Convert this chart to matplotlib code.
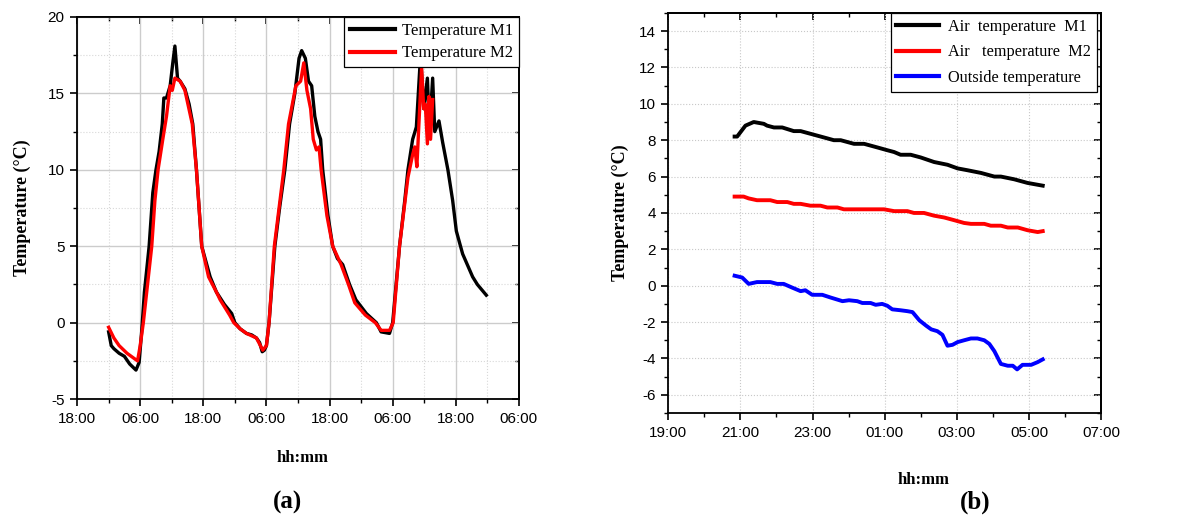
import matplotlib
matplotlib.use("Agg")
import matplotlib.pyplot as plt
from matplotlib.ticker import MultipleLocator, FixedLocator, FixedFormatter

# ---------------- Panel (a) data: hours since 18:00 of day 0 ----------------
a_m1_t = [6.0, 6.5, 7.0, 8.0, 9.0, 10.0, 11.2, 11.8, 12.3, 12.8, 13.7, 14.4, 15.0, 15.6, 16.2, 16.5,
          17.0, 17.7, 18.2, 18.6, 19.1, 19.6, 20.5, 21.3, 22.0, 22.7, 23.7, 24.5, 25.3, 26.5, 28.0,
          29.4, 30.0, 31.0, 32.2, 33.2, 34.1, 34.7, 35.2, 35.6, 36.0, 36.5, 37.6, 38.5, 39.5, 40.4,
          41.4, 42.2, 42.7, 43.4, 44.0, 44.6, 45.2, 45.8, 46.3, 46.7, 47.7, 48.6, 49.5, 50.5, 51.8,
          53.0, 55.0, 56.9, 57.8, 59.4, 60.0, 61.3, 62.3, 62.9, 63.8, 64.5, 65.3, 65.9, 66.6, 67.0,
          67.6, 68.0, 68.8, 69.5, 70.5, 71.4, 72.1, 73.3, 75.2, 76.1, 77.8]
a_m1_v = [-0.6, -1.5, -1.7, -2.0, -2.2, -2.7, -3.1, -2.6, -0.5, 2.0, 5.0, 8.5, 10.0, 11.2, 13.0, 14.7,
          14.7, 15.5, 17.0, 18.1, 16.0, 15.8, 15.3, 14.3, 13.0, 10.0, 5.0, 4.0, 3.0, 2.0, 1.2,
          0.6, 0.0, -0.4, -0.7, -0.8, -1.0, -1.3, -1.9, -1.8, -1.5, 0.0, 5.0, 7.5, 10.0, 13.0,
          15.0, 17.3, 17.8, 17.3, 15.8, 15.5, 13.5, 12.5, 12.0, 10.0, 7.0, 5.0, 4.2, 3.8, 2.5,
          1.5, 0.6, 0.0, -0.6, -0.7, 0.0, 5.0, 8.0, 10.0, 12.0, 12.8, 17.5, 14.0, 16.0, 12.5,
          16.0, 12.5, 13.2, 11.8, 10.0, 8.0, 6.0, 4.5, 3.0, 2.5, 1.8]

a_m2_t = [6.0, 7.0, 8.0, 9.5, 11.5, 12.0, 12.6, 13.4, 14.2, 14.8, 15.4, 16.3, 17.0, 17.7, 18.1, 18.6,
          19.6, 20.5, 21.9, 22.7, 23.7, 25.0, 26.5, 27.2, 29.0, 29.8, 31.0, 32.2, 34.1, 35.0, 35.3,
          36.0, 36.5, 37.5, 39.3, 40.2, 41.6, 42.5, 43.1, 43.7, 44.4, 44.9, 45.5, 46.0, 46.4, 47.5,
          48.6, 50.2, 51.6, 52.8, 54.8, 56.7, 57.8, 59.4, 60.1, 61.3, 62.9, 63.8, 64.2, 64.6, 65.5,
          65.9, 66.2, 66.6, 66.9, 67.2, 67.6]
a_m2_v = [-0.3, -1.0, -1.5, -2.0, -2.5, -1.5, 0.0, 2.5, 5.0, 8.0, 10.0, 12.0, 13.5, 15.5, 15.2, 16.0,
          15.8, 15.2, 13.0, 10.0, 5.0, 3.0, 2.0, 1.5, 0.5, 0.0, -0.4, -0.7, -1.0, -1.6, -1.8,
          -1.5, 0.0, 5.0, 10.0, 13.0, 15.5, 15.8, 17.0, 15.2, 14.0, 12.0, 11.3, 11.5, 10.0, 7.0,
          5.0, 3.8, 2.5, 1.3, 0.5, 0.0, -0.5, -0.5, 0.0, 5.0, 9.5, 11.0, 11.5, 10.2, 16.7,
          14.0, 14.3, 11.7, 14.8, 12.0, 14.6]

a_xticks = [0, 12, 24, 36, 48, 60, 72, 84]
a_xlabels = ["18:00", "06:00", "18:00", "06:00", "18:00", "06:00", "18:00", "06:00"]

# ---------------- Panel (b) data: hours since 19:00 ----------------
b_t_m1 = [1.84, 1.91, 2.14, 2.37, 2.65, 2.74, 2.93, 3.16, 3.48, 3.67, 4.04, 4.41, 4.59, 4.78, 5.15,
          5.43, 5.80, 6.07, 6.26, 6.44, 6.72, 7.00, 7.37, 7.74, 8.02, 8.29, 8.67, 9.04, 9.22, 9.59,
          9.96, 10.24, 10.38]
b_m1 = [8.2, 8.2, 8.8, 9.0, 8.9, 8.8, 8.7, 8.7, 8.5, 8.5, 8.3, 8.1, 8.0, 8.0, 7.8,
        7.8, 7.6, 7.45, 7.35, 7.2, 7.2, 7.05, 6.8, 6.65, 6.45, 6.35, 6.2, 6.0, 6.0, 5.85,
        5.65, 5.55, 5.5]

b_t_m2 = [1.84, 2.09, 2.23, 2.46, 2.83, 3.02, 3.30, 3.48, 3.67, 3.94, 4.22, 4.41, 4.69, 4.87, 5.15,
          5.33, 5.52, 5.98, 6.26, 6.63, 6.81, 7.09, 7.37, 7.65, 7.93, 8.20, 8.39, 8.76, 8.94, 9.22,
          9.41, 9.69, 9.96, 10.24, 10.38]
b_m2 = [4.9, 4.9, 4.8, 4.7, 4.7, 4.6, 4.6, 4.5, 4.5, 4.4, 4.4, 4.3, 4.3, 4.2, 4.2,
        4.2, 4.2, 4.2, 4.1, 4.1, 4.0, 4.0, 3.85, 3.75, 3.6, 3.45, 3.4, 3.4, 3.3, 3.3,
        3.2, 3.2, 3.05, 2.95, 3.0]

b_t_out = [1.84, 2.05, 2.23, 2.46, 2.83, 3.02, 3.20, 3.43, 3.67, 3.80, 3.99, 4.27, 4.50, 4.83, 5.01,
           5.24, 5.38, 5.61, 5.75, 5.93, 6.07, 6.21, 6.44, 6.63, 6.77, 6.96, 7.15, 7.29, 7.46, 7.60,
           7.74, 7.88, 8.02, 8.20, 8.39, 8.57, 8.76, 8.90, 9.04, 9.22, 9.41, 9.55, 9.67, 9.82, 10.06,
           10.24, 10.38]
b_out = [0.55, 0.45, 0.1, 0.2, 0.2, 0.1, 0.1, -0.1, -0.3, -0.25, -0.5, -0.5, -0.65, -0.85, -0.8,
         -0.85, -0.95, -0.95, -1.05, -1.0, -1.1, -1.3, -1.35, -1.4, -1.45, -1.9, -2.2, -2.4, -2.5, -2.7,
         -3.3, -3.25, -3.1, -3.0, -2.9, -2.9, -3.0, -3.2, -3.6, -4.3, -4.4, -4.4, -4.6, -4.35, -4.35,
         -4.2, -4.05]

b_xticks = [0, 2, 4, 6, 8, 10, 12]
b_xlabels = ["19:00", "21:00", "23:00", "01:00", "03:00", "05:00", "07:00"]

# ---------------- Figure ----------------
SERIF = "Liberation Serif"
SANS = "Liberation Sans"
plt.rcParams["font.family"] = SANS
plt.rcParams["axes.unicode_minus"] = False
fig = plt.figure(figsize=(12.04, 5.15), dpi=100)

def style_axes(ax):
    for s in ax.spines.values():
        s.set_linewidth(1.3)
        s.set_color("black")
    ax.tick_params(which="major", direction="out", length=5, width=1.2, labelsize=11, pad=4)
    ax.tick_params(which="minor", direction="out", length=3, width=1.0)
    # top and right ticks pointing inward without labels
    top = ax.secondary_xaxis("top")
    top.set_xticks(ax.get_xticks(minor=False))
    top.xaxis.set_minor_locator(ax.xaxis.get_minor_locator())
    top.tick_params(which="major", direction="in", length=5, width=1.2, labelbottom=False, labeltop=False)
    top.tick_params(which="minor", direction="in", length=3, width=1.0)
    right = ax.secondary_yaxis("right")
    right.set_yticks(ax.get_yticks(minor=False))
    right.yaxis.set_minor_locator(ax.yaxis.get_minor_locator())
    right.tick_params(which="major", direction="in", length=5, width=1.2, labelleft=False, labelright=False)
    right.tick_params(which="minor", direction="in", length=3, width=1.0)
    for sa in (top, right):
        for s in sa.spines.values():
            s.set_linewidth(1.3)

# Panel (a)
ax1 = fig.add_axes([0.064, 0.225, 0.367, 0.742])
ax1.plot(a_m1_t, a_m1_v, color="black", lw=2.4, label="Temperature M1", zorder=3)
ax1.plot(a_m2_t, a_m2_v, color="#ff0000", lw=2.4, label="Temperature M2", zorder=4)
ax1.set_xlim(0, 84)
ax1.set_ylim(-5, 20)
ax1.xaxis.set_major_locator(FixedLocator(a_xticks))
ax1.xaxis.set_major_formatter(FixedFormatter(a_xlabels))
ax1.xaxis.set_minor_locator(MultipleLocator(6))
ax1.yaxis.set_major_locator(MultipleLocator(5))
ax1.yaxis.set_minor_locator(MultipleLocator(2.5))
ax1.grid(which="major", color="#cccccc", lw=1.0, ls="-")
ax1.grid(which="minor", color="#d8d8d8", lw=0.8, ls=":")
ax1.set_axisbelow(True)
style_axes(ax1)
leg1 = ax1.legend(loc="upper right", prop={"family": SERIF, "size": 12}, frameon=True, fancybox=False,
                  borderaxespad=0.0, handlelength=2.7, borderpad=0.35, labelspacing=0.4, handletextpad=0.4)
leg1.get_frame().set_edgecolor("black")
leg1.get_frame().set_linewidth(0.9)
leg1.get_frame().set_alpha(1)
for l in leg1.get_lines():
    l.set_linewidth(3)
ax1.set_ylabel("Temperature (°C)", family=SERIF, fontweight="bold", fontsize=13, labelpad=12)
fig.text(0.251, 0.110, "hh:mm", family=SERIF, fontweight="bold", fontsize=12, ha="center", va="center")
fig.text(0.239, 0.025, "(a)", family=SERIF, fontweight="bold", fontsize=18, ha="center", va="center")

# Panel (b)
ax2 = fig.add_axes([0.555, 0.198, 0.3596, 0.777])
ax2.plot(b_t_m1, b_m1, color="black", lw=2.8, label="Air  temperature  M1", zorder=3)
ax2.plot(b_t_m2, b_m2, color="#ff0000", lw=2.8, label="Air   temperature  M2", zorder=3)
ax2.plot(b_t_out, b_out, color="#0000ff", lw=2.8, label="Outside temperature", zorder=3)
ax2.set_xlim(0, 12)
ax2.set_ylim(-7, 15)
ax2.xaxis.set_major_locator(FixedLocator(b_xticks))
ax2.xaxis.set_major_formatter(FixedFormatter(b_xlabels))
ax2.xaxis.set_minor_locator(MultipleLocator(1))
ax2.yaxis.set_major_locator(MultipleLocator(2))
ax2.yaxis.set_minor_locator(MultipleLocator(1))
ax2.grid(which="major", color="#c8c8c8", lw=0.8, ls=":")
ax2.set_axisbelow(True)
style_axes(ax2)
leg2 = ax2.legend(loc="upper right", prop={"family": SERIF, "size": 11.7}, frameon=True, fancybox=False,
                  borderaxespad=0.0, handlelength=2.6, borderpad=0.35, labelspacing=0.6, handletextpad=0.6,
                  bbox_to_anchor=(0.99, 1.0))
leg2.get_frame().set_edgecolor("black")
leg2.get_frame().set_linewidth(0.9)
leg2.get_frame().set_alpha(1)
for l in leg2.get_lines():
    l.set_linewidth(3)
ax2.set_ylabel("Temperature (°C)", family=SERIF, fontweight="bold", fontsize=13, labelpad=7)
fig.text(0.767, 0.068, "hh:mm", family=SERIF, fontweight="bold", fontsize=12, ha="center", va="center")
fig.text(0.810, 0.025, "(b)", family=SERIF, fontweight="bold", fontsize=18, ha="center", va="center")

fig.savefig("out.png", dpi=100)
